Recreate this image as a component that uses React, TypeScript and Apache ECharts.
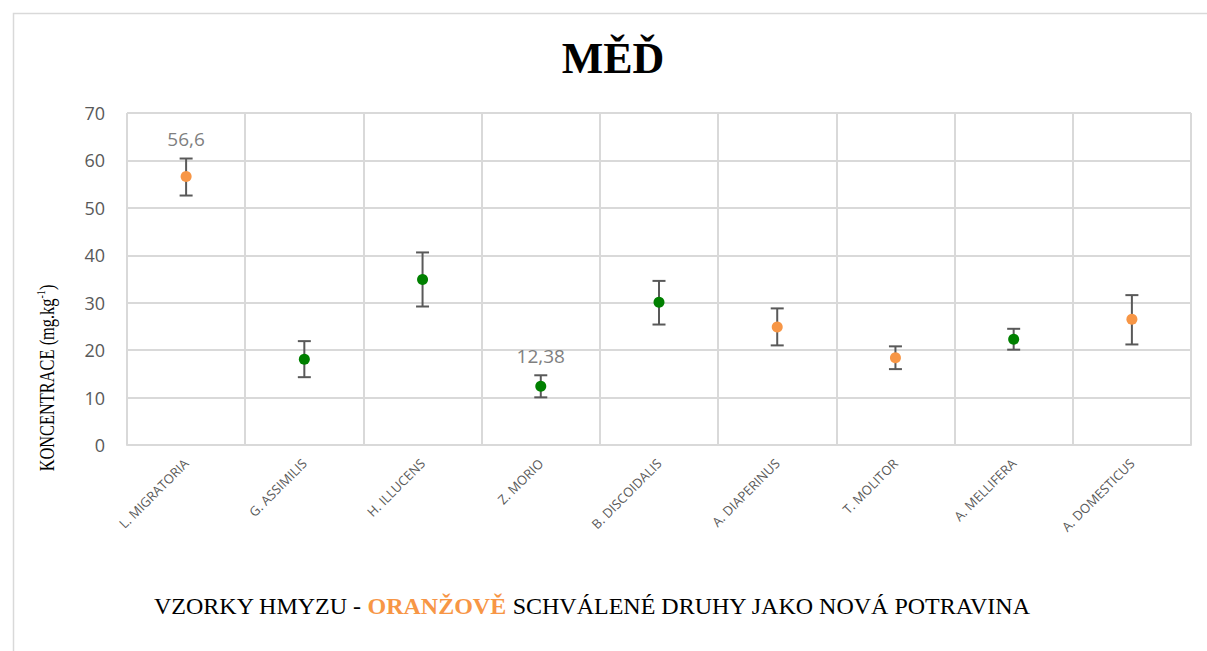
import React, { useEffect, useRef } from "react";
import * as echarts from "echarts";

const categories = [
  "L. MIGRATORIA",
  "G. ASSIMILIS",
  "H. ILLUCENS",
  "Z. MORIO",
  "B. DISCOIDALIS",
  "A. DIAPERINUS",
  "T. MOLITOR",
  "A. MELLIFERA",
  "A. DOMESTICUS",
];
const values = [56.6, 18.1, 34.9, 12.38, 30.1, 24.9, 18.4, 22.3, 26.5];
const upper = [60.4, 21.9, 40.6, 14.7, 34.6, 28.8, 20.8, 24.5, 31.6];
const lower = [52.6, 14.3, 29.2, 10.05, 25.4, 21.0, 16.0, 20.1, 21.2];
const approved = [true, false, false, false, false, true, true, false, true];
const pointLabels = ["56,6", "", "", "12,38", "", "", "", "", ""];
const yTicks = [0, 10, 20, 30, 40, 50, 60, 70];

const ORANGE = "#F79646";
const GREEN = "#008000";
const GRID = "#d9d9d9";

export default function App() {
  const ref = useRef<HTMLDivElement>(null);
  useEffect(() => {
    document.body.style.margin = "0";
    const chart = echarts.init(ref.current!, null, { renderer: "svg" });
    const option: any = {
      animation: false,
      backgroundColor: "#ffffff",
      grid: { left: 127, right: 16, top: 113, bottom: 206, containLabel: false },
      xAxis: {
        type: "category",
        data: categories,
        boundaryGap: true,
        axisLine: { show: true, lineStyle: { color: GRID, width: 2 } },
        axisTick: { show: false },
        splitLine: { show: true, lineStyle: { color: GRID, width: 2 } },
        axisLabel: {
          rotate: 45,
          interval: 0,
          margin: 16,
          fontFamily: "Open Sans",
          fontSize: 13,
          color: "#595959",
        },
      },
      yAxis: {
        type: "value",
        min: yTicks[0],
        max: yTicks[yTicks.length - 1],
        interval: 10,
        axisLine: { show: false },
        axisTick: { show: false },
        splitLine: { show: true, lineStyle: { color: GRID, width: 2 } },
        axisLabel: {
          margin: 22,
          fontFamily: "Open Sans",
          fontSize: 18,
          color: "#595959",
        },
      },
      graphic: [
        {
          type: "rect",
          left: 11,
          top: 11,
          shape: { width: 1230, height: 680 },
          style: { fill: "none", stroke: GRID, lineWidth: 1.5 },
          silent: true,
          z: -10,
        },
        {
          type: "text",
          x: 613,
          y: 58,
          style: {
            text: "MĚĎ",
            fontFamily: "Liberation Serif",
            fontWeight: "bold",
            fontSize: 44,
            fill: "#000000",
            textAlign: "center",
            textVerticalAlign: "middle",
          },
        },
        {
          type: "text",
          x: 47,
          y: 378,
          rotation: Math.PI / 2,
          scaleX: 0.78,
          style: {
            text: "{a|KONCENTRACE (mg.kg}{s|-1}{a|)}",
            textAlign: "center",
            textVerticalAlign: "middle",
            rich: {
              a: { fontFamily: "Liberation Serif", fontSize: 21, fill: "#000000", lineHeight: 24 },
              s: { fontFamily: "Liberation Serif", fontSize: 13, fill: "#000000", verticalAlign: "top", lineHeight: 24, padding: [0, 0, 10, 0] },
            },
          },
        },
        {
          type: "text",
          x: 592,
          y: 606,
          style: {
            text: "{n|VZORKY HMYZU - }{o|ORANŽOVĚ}{n| SCHVÁLENÉ DRUHY JAKO NOVÁ POTRAVINA}",
            textAlign: "center",
            textVerticalAlign: "middle",
            rich: {
              n: { fontFamily: "Liberation Serif", fontSize: 24, fill: "#000000" },
              o: { fontFamily: "Liberation Serif", fontSize: 24, fontWeight: "bold", fill: ORANGE },
            },
          },
        },
      ],
      series: [
        {
          type: "custom",
          z: 2,
          data: categories.map((c, i) => [i, lower[i], upper[i]]),
          renderItem: (params: any, api: any) => {
            const i = params.dataIndex;
            const lo = api.coord([api.value(0), api.value(1)]);
            const hi = api.coord([api.value(0), api.value(2)]);
            const cap = 6.5;
            const style = { stroke: "#595959", lineWidth: 2 };
            const children: any[] = [
              { type: "line", shape: { x1: lo[0], y1: lo[1], x2: hi[0], y2: hi[1] }, style },
              { type: "line", shape: { x1: hi[0] - cap, y1: hi[1], x2: hi[0] + cap, y2: hi[1] }, style },
              { type: "line", shape: { x1: lo[0] - cap, y1: lo[1], x2: lo[0] + cap, y2: lo[1] }, style },
            ];
            if (pointLabels[i]) {
              children.push({
                type: "text",
                x: hi[0],
                y: hi[1] - 10,
                style: {
                  text: pointLabels[i],
                  fontFamily: "Open Sans",
                  fontSize: 19,
                  fill: "#7f7f7f",
                  textAlign: "center",
                  textVerticalAlign: "bottom",
                },
              });
            }
            return { type: "group", children };
          },
        },
        {
          type: "scatter",
          z: 3,
          symbol: "circle",
          symbolSize: 11,
          data: values.map((v, i) => ({
            value: [i, v],
            itemStyle: { color: approved[i] ? ORANGE : GREEN, opacity: 1 },
          })),
        },
      ],
    };
    chart.setOption(option);
    return () => chart.dispose();
  }, []);
  return <div ref={ref} style={{ width: 1207, height: 651 }} />;
}
